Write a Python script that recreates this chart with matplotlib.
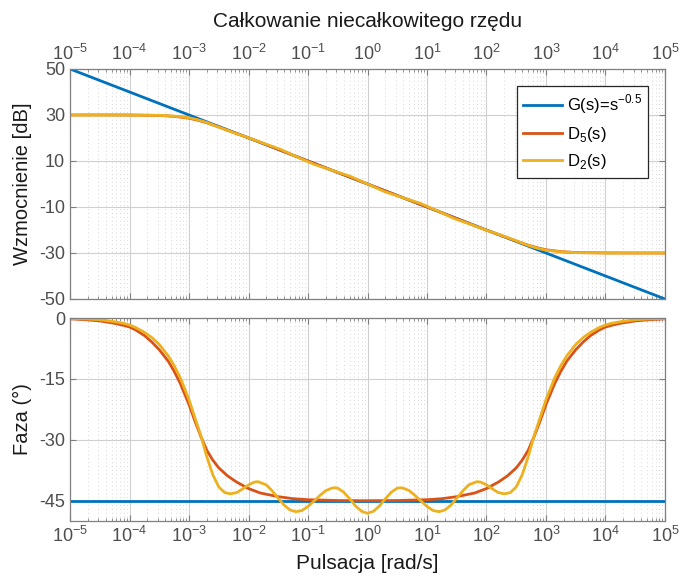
import matplotlib
matplotlib.use("Agg")
import matplotlib.pyplot as plt
import numpy as np
from matplotlib.ticker import LogLocator, NullFormatter, FixedLocator

plt.rcParams['font.family'] = ['Liberation Sans', 'DejaVu Sans']
plt.rcParams['mathtext.fontset'] = 'custom'
plt.rcParams['mathtext.rm'] = 'Liberation Sans'
plt.rcParams['axes.unicode_minus'] = False

# --- data ---
# G(s) = s^-0.5 (straight lines)
w_g = [1e-5, 1e5]
mag_g = [50, -50]
ph_g = [-45, -45]

# magnitude [dB], sampled at these exponents of w
L_mag = [-5, -4.5, -4, -3.5, -3.25, -3, -2.85, -2.7, -2.5, -2.25, -2, -1.75,
         -1.46, -1.2, -0.89, -0.6, -0.29, 0,
         0.29, 0.6, 0.89, 1.2, 1.46, 1.75, 2, 2.25, 2.5, 2.7, 2.85, 3,
         3.25, 3.5, 4, 4.5, 5]
mag_d5 = [30, 30, 29.97, 29.8, 29.4, 28.6, 27.7, 26.6, 24.8, 22.4, 20.1, 17.6,
          14.65, 12.0, 8.9, 6.0, 2.9, 0,
          -2.9, -6.0, -8.9, -12.0, -14.65, -17.6, -20.1, -22.4, -24.8, -26.6, -27.7, -28.6,
          -29.4, -29.8, -29.97, -30, -30]
mag_d2 = [30, 30, 29.98, 29.85, 29.5, 28.8, 27.9, 26.7, 24.7, 22.3, 20.1, 17.7,
          15.05, 11.95, 8.45, 6.0, 3.35, 0,
          -3.35, -6.0, -8.45, -11.95, -15.05, -17.7, -20.1, -22.3, -24.7, -26.7, -27.9, -28.8,
          -29.5, -29.85, -29.98, -30, -30]

# phase [deg]
L_ph_d5 = [-5, -4.75, -4.5, -4.25, -4.1, -4, -3.9, -3.75, -3.625, -3.5, -3.35, -3.25,
           -3.15, -3, -2.9, -2.8, -2.7, -2.6, -2.5, -2.35, -2.2, -2, -1.8, -1.5,
           -1.25, -1, -0.5, 0, 0.5, 1, 1.25,
           1.5, 1.8, 2, 2.2, 2.35, 2.5, 2.6, 2.7, 2.8, 2.9, 3, 3.15,
           3.25, 3.35, 3.5, 3.625, 3.75, 3.9, 4, 4.1, 4.25, 4.5, 4.75, 5]
ph_d5 = [-0.2, -0.4, -0.7, -1.3, -1.8, -2.2, -2.9, -4.3, -5.9, -7.8, -10.6, -13.1,
         -16.0, -21.3, -25.4, -29.2, -32.6, -35.0, -36.9, -38.9, -40.4, -42.0, -43.1, -44.0,
         -44.5, -44.75, -44.95, -45.0, -44.95, -44.75, -44.5,
         -44.0, -43.1, -42.0, -40.4, -38.9, -36.9, -35.0, -32.6, -29.2, -25.4, -21.3, -16.0,
         -13.1, -10.6, -7.8, -5.9, -4.3, -2.9, -2.2, -1.8, -1.3, -0.7, -0.4, -0.2]

L_ph_d2 = [-5, -4.75, -4.5, -4.25, -4.1, -4, -3.9, -3.75, -3.625, -3.5, -3.35, -3.25,
           -3.15, -3, -2.9, -2.8, -2.7, -2.6, -2.5, -2.4, -2.3, -2.2, -2.1, -2,
           -1.9, -1.84, -1.7, -1.6, -1.5, -1.4, -1.3, -1.2, -1.1, -1, -0.9, -0.8,
           -0.7, -0.6, -0.55, -0.5, -0.4, -0.3, -0.2, -0.1, 0,
           0.1, 0.2, 0.3, 0.4, 0.5, 0.55, 0.6, 0.7, 0.8, 0.9, 1, 1.1,
           1.2, 1.3, 1.4, 1.5, 1.6, 1.7, 1.84, 1.9, 2, 2.1, 2.2, 2.3,
           2.4, 2.5, 2.6, 2.7, 2.8, 2.9, 3, 3.15, 3.25, 3.35, 3.5, 3.625,
           3.75, 3.9, 4, 4.1, 4.25, 4.5, 4.75, 5]
ph_d2 = [-0.1, -0.2, -0.4, -0.9, -1.3, -1.7, -2.3, -3.5, -4.8, -6.5, -9.3, -11.7,
         -14.6, -20.1, -24.6, -29.0, -34.2, -38.6, -41.6, -43.0, -43.3, -43.0, -42.1, -41.1,
         -40.4, -40.3, -41.1, -42.6, -44.4, -46.1, -47.3, -47.7, -47.4, -46.4, -45.1, -43.7,
         -42.5, -41.9, -41.8, -41.9, -42.9, -44.5, -46.3, -47.6, -48.1,
         -47.6, -46.3, -44.5, -42.9, -41.9, -41.8, -41.9, -42.5, -43.7, -45.1, -46.4, -47.4,
         -47.7, -47.3, -46.1, -44.4, -42.6, -41.1, -40.3, -40.4, -41.1, -42.1, -43.0, -43.3,
         -43.0, -41.6, -38.6, -34.2, -29.0, -24.6, -20.1, -14.6, -11.7, -9.3, -6.5, -4.8,
         -3.5, -2.3, -1.7, -1.3, -0.9, -0.4, -0.2, -0.1]

labels = ['G(s)=s$^{\\mathregular{-0.5}}$', 'D$_{\\mathregular{5}}$(s)', 'D$_{\\mathregular{2}}$(s)']
colors = ['#0072BD', '#D95319', '#EDB120']

xticks = [1e-5, 1e-4, 1e-3, 1e-2, 1e-1, 1e0, 1e1, 1e2, 1e3, 1e4, 1e5]
mag_ticks = [50, 30, 10, -10, -30, -50]
ph_ticks = [0, -15, -30, -45]

tick_col = '#4d4d4d'
spine_col = '#7f7f7f'

fig = plt.figure(figsize=(6.81, 5.88), dpi=100)
ax1 = fig.add_axes([0.1028, 0.4915, 0.8737, 0.3912])
ax2 = fig.add_axes([0.1028, 0.1139, 0.8737, 0.3452])

w_mag = 10.0 ** np.array(L_mag)
ax1.semilogx(w_g, mag_g, color=colors[0], lw=2, label=labels[0])
ax1.semilogx(w_mag, mag_d5, color=colors[1], lw=2, label=labels[1])
ax1.semilogx(w_mag, mag_d2, color=colors[2], lw=2, label=labels[2])

ax2.semilogx(w_g, ph_g, color=colors[0], lw=2)
ax2.semilogx(10.0 ** np.array(L_ph_d5), ph_d5, color=colors[1], lw=2)
ax2.semilogx(10.0 ** np.array(L_ph_d2), ph_d2, color=colors[2], lw=2)

for ax in (ax1, ax2):
    ax.set_xlim(1e-5, 1e5)
    ax.xaxis.set_major_locator(FixedLocator(xticks))
    ax.xaxis.set_minor_locator(LogLocator(base=10, subs=np.arange(2, 10), numticks=100))
    ax.xaxis.set_minor_formatter(NullFormatter())
    ax.grid(True, which='major', color='#d0d0d0', lw=0.8)
    ax.grid(True, which='minor', axis='x', color='#d8d8d8', lw=0.7, ls=(0, (1, 3)))
    ax.set_axisbelow(True)
    ax.tick_params(which='both', direction='in', top=True, right=True,
                   colors=spine_col, labelcolor=tick_col, labelsize=13)
    ax.tick_params(which='major', length=4)
    ax.tick_params(which='minor', length=2.5)
    for s in ax.spines.values():
        s.set_color(spine_col)
        s.set_linewidth(0.9)

ax1.set_ylim(-50, 50)
ax1.set_yticks(mag_ticks)
ax1.xaxis.tick_top()
ax1.tick_params(which='both', bottom=True, top=True)
ax1.set_ylabel('Wzmocnienie [dB]', fontsize=14.5, color='#1a1a1a', labelpad=5)
ax1.set_title('Całkowanie niecałkowitego rzędu', fontsize=15, color='#1a1a1a', pad=30)
leg = ax1.legend(loc='upper right', bbox_to_anchor=(0.972, 0.926), fontsize=12,
                 frameon=True, fancybox=False, edgecolor='#262626', framealpha=1,
                 handlelength=2.3, handletextpad=0.3, borderpad=0.4, labelspacing=0.5,
                 borderaxespad=0)
leg.get_frame().set_linewidth(0.9)

ax2.set_ylim(-50, 0)
ax2.set_yticks(ph_ticks)
ax2.set_ylabel('Faza (°)', fontsize=14.5, color='#1a1a1a', labelpad=5)
ax2.set_xlabel('Pulsacja [rad/s]', fontsize=15, color='#1a1a1a', labelpad=6)

fig.savefig('out.png', dpi=100)
